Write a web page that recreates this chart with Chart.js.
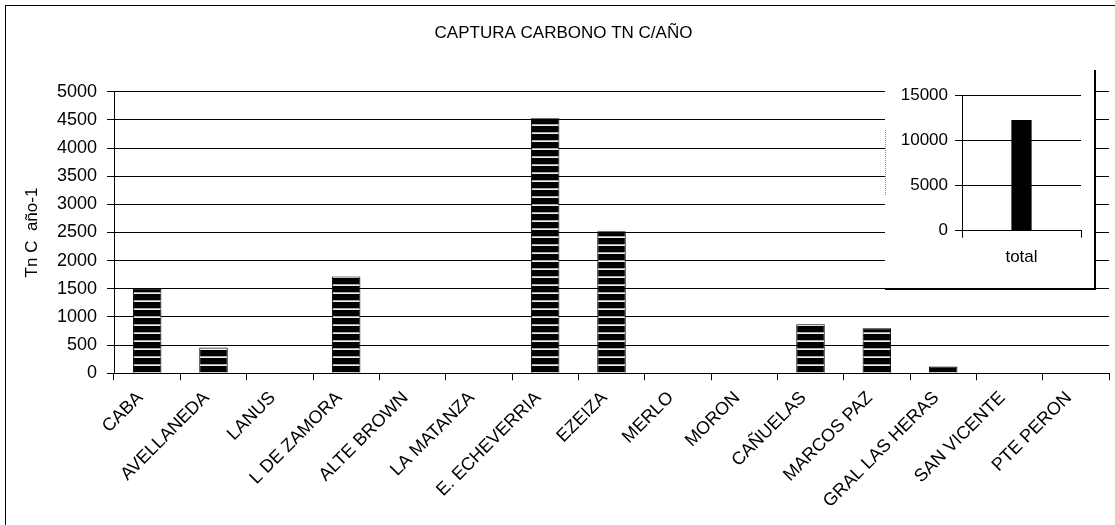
<!DOCTYPE html>
<html>
<head>
<meta charset="utf-8">
<title>Captura carbono</title>
<script src="https://cdn.jsdelivr.net/npm/chart.js@4.4.1/dist/chart.umd.min.js"></script>
<style>
  html, body { margin: 0; padding: 0; background: #fff; overflow: hidden; }
  #wrap { position: relative; width: 1115px; height: 525px; }
  #main { position: absolute; left: 0; top: 0; }
  #insetBox {
    position: absolute; left: 885px; top: 70px; width: 209px; height: 218px;
    background: #fff; border-right: 2px solid #000; border-bottom: 2px solid #000;
  }
  #insetBox canvas { display: block; }
  #axisStub { position: absolute; left: 885px; top: 130px; height: 65px; border-left: 1px dotted #888; }
</style>
</head>
<body>
<div id="wrap">
  <canvas id="main" width="1115" height="525"></canvas>
  <div id="insetBox"><canvas id="inset" width="209" height="218"></canvas></div>
  <div id="axisStub"></div>
</div>
<script>
// Partidos del conurbano y captura anual de carbono (Tn C / año)
const partidos = [
  'CABA', 'AVELLANEDA', 'LANUS', 'L DE ZAMORA', 'ALTE BROWN', 'LA MATANZA',
  'E. ECHEVERRIA', 'EZEIZA', 'MERLO', 'MORON', 'CAÑUELAS', 'MARCOS PAZ',
  'GRAL LAS HERAS', 'SAN VICENTE', 'PTE PERON'
];
const capturaTn = [1500, 460, 0, 1720, 0, 0, 4530, 2520, 0, 0, 870, 800, 120, 0, 0];

// Eje Y principal
const yMin = 0;
const yMax = 5000;
const yStep = 500;

// Recuadro con el total
const totalLabels = ['total'];
const totalTn = [12250];
const totalMax = 15000;
const totalStep = 5000;

const TITLE = 'CAPTURA CARBONO TN C/AÑO';
const Y_TITLE = 'Tn C  año-1';
const FONT = "'Liberation Sans', Arial, sans-serif";

// Números sin separador de miles
const plainNumber = (v) => String(v);

// Relleno rayado horizontal (negro con líneas claras)
function stripePattern() {
  const tile = document.createElement('canvas');
  tile.width = 8; tile.height = 8;
  const c = tile.getContext('2d');
  c.fillStyle = '#000';
  c.fillRect(0, 0, 8, 8);
  c.fillStyle = '#a8a8a8';
  c.fillRect(0, 4, 8, 1);
  c.fillStyle = '#ececec';
  c.fillRect(0, 5, 8, 1);
  return document.getElementById('main').getContext('2d').createPattern(tile, 'repeat');
}

// Marco exterior del gráfico
const framePlugin = {
  id: 'frame',
  afterDraw(chart) {
    const ctx = chart.ctx;
    ctx.save();
    ctx.strokeStyle = '#000';
    ctx.lineWidth = 1;
    ctx.strokeRect(5.5, 5.5, 1400, 1400);
    ctx.restore();
  }
};

Chart.defaults.font.family = FONT;
Chart.defaults.color = '#000';

new Chart(document.getElementById('main'), {
  type: 'bar',
  data: {
    labels: partidos,
    datasets: [{
      data: capturaTn,
      backgroundColor: stripePattern(),
      borderColor: '#000',
      borderWidth: 1,
      categoryPercentage: 1,
      barPercentage: 0.43
    }]
  },
  options: {
    responsive: false,
    animation: false,
    layout: { padding: { left: 18, right: 6, top: 0, bottom: 0 } },
    plugins: {
      legend: { display: false },
      tooltip: { enabled: false },
      title: {
        display: true,
        text: TITLE,
        color: '#000',
        font: { family: FONT, size: 17, weight: 'normal' },
        padding: { top: 23, bottom: 48.3 }
      }
    },
    scales: {
      x: {
        grid: { display: true, drawOnChartArea: false, drawTicks: true, tickLength: 7, offset: true, color: '#000', lineWidth: 1 },
        border: { display: true, color: '#000', width: 1 },
        ticks: {
          autoSkip: false, minRotation: 45, maxRotation: 45, color: '#000',
          font: { family: FONT, size: 18 }, padding: 7, labelOffset: -7
        },
        afterFit(scale) { scale.height = 151.7; }
      },
      y: {
        min: yMin,
        max: yMax,
        grid: { color: '#000', lineWidth: 1, drawTicks: true, tickLength: 7 },
        border: { display: true, color: '#000', width: 1 },
        ticks: { stepSize: yStep, color: '#000', font: { family: FONT, size: 18 }, padding: 10, callback: plainNumber },
        title: {
          display: true, text: Y_TITLE, color: '#000',
          font: { family: FONT, size: 17 }, padding: { top: 4, bottom: 0 }
        },
        afterFit(scale) { scale.width = 96; }
      }
    }
  },
  plugins: [framePlugin]
});

new Chart(document.getElementById('inset'), {
  type: 'bar',
  data: {
    labels: totalLabels,
    datasets: [{
      data: totalTn,
      backgroundColor: '#000',
      borderWidth: 0,
      categoryPercentage: 1,
      barPercentage: 0.17
    }]
  },
  options: {
    responsive: false,
    animation: false,
    layout: { padding: { left: 0, right: 13, top: 25, bottom: 0 } },
    plugins: { legend: { display: false }, tooltip: { enabled: false } },
    scales: {
      x: {
        grid: { display: true, drawOnChartArea: false, drawTicks: true, tickLength: 7, offset: true, color: '#000' },
        border: { display: true, color: '#000', width: 1 },
        ticks: { color: '#000', font: { family: FONT, size: 17 }, padding: 9 },
        afterFit(scale) { scale.height = 57.3; }
      },
      y: {
        min: 0,
        max: totalMax,
        grid: { color: '#000', lineWidth: 1, drawTicks: true, tickLength: 7 },
        border: { display: true, color: '#000', width: 1 },
        ticks: { stepSize: totalStep, color: '#000', font: { family: FONT, size: 17 }, padding: 7, callback: plainNumber },
        afterFit(scale) { scale.width = 77; }
      }
    }
  }
});
</script>
</body>
</html>
